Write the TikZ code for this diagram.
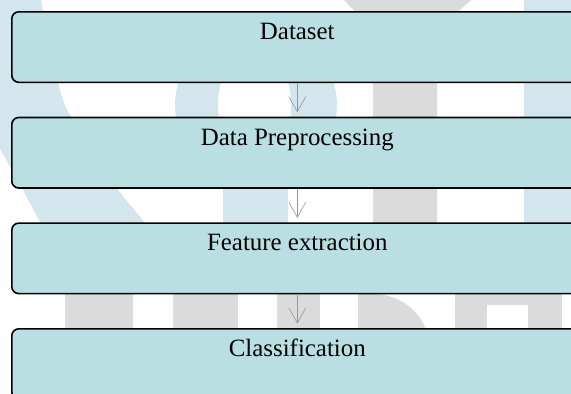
\documentclass[tikz,border=0pt]{standalone}
\usepackage{fontspec}
\setmainfont{Liberation Serif}
\usetikzlibrary{arrows.meta}
\definecolor{boxfill}{RGB}{185,223,226}
\definecolor{wmblue}{RGB}{211,230,238}
\definecolor{wmgray}{RGB}{219,219,220}
\definecolor{arrowgray}{RGB}{150,150,150}
\begin{document}
\begin{tikzpicture}[x=1pt,y=-1pt,
  stagebox/.style={draw=black, line width=1.6pt, fill=boxfill, rounded corners=7pt,
    minimum width=571pt, minimum height=70.5pt, inner sep=0pt,
    text height=27.8pt, text depth=42.7pt,
    font=\fontsize{24.9}{29}\selectfont, anchor=north west},
  flow/.style={draw=arrowgray, line width=0.6pt,
    -{Straight Barb[length=15pt,width=17pt,line width=0.6pt]}, shorten >=4.5pt}]
\clip (0,0) rectangle (571,394);
% watermark (background)
\fill[wmblue] plot[smooth] coordinates {(40,-5) (58,82) (71,117) (117,188) (144,222) (165,258)}
  -- (70,258) -- (40,222) -- (22,188) -- (-5,140) -- (-5,-5) -- cycle;
\fill[wmblue,even odd rule] (256,105) ellipse [x radius=81pt, y radius=78pt]
  (254.5,105) ellipse [x radius=36.5pt, y radius=60pt];
\fill[wmblue] (223,150) rectangle (288,258);
\fill[wmblue] (524,-5) rectangle (576,258);
\fill[wmgray] (339,-5) -- (477,-5) -- (437,30) -- (437,258) -- (373,258) -- (373,30) -- cycle;
\fill[wmgray] (65,290) rectangle (133,345);
\fill[wmgray] (173,290) rectangle (238,345);
\fill[wmgray] (277,290) rectangle (320,345);
\fill[wmgray] (358,294) -- (378,294) .. controls (405,297) and (426,315) .. (430,345) -- (358,345) -- cycle;
\fill[wmgray] (455,294) rectangle (487,345);
\fill[wmgray] (528,294) rectangle (562,345);
\fill[wmgray] (487,294) rectangle (528,305);
% boxes
\node[stagebox] (d1) at (11,11) {Dataset};
\node[stagebox] (d2) at (11,116.7) {Data Preprocessing};
\node[stagebox] (d3) at (11,222.3) {Feature extraction};
\node[stagebox] (d4) at (11,328) {Classification};
% connectors
\draw[flow] (d1.south) -- (d2.north);
\draw[flow] (d2.south) -- (d3.north);
\draw[flow] (d3.south) -- (d4.north);
\end{tikzpicture}
\end{document}
